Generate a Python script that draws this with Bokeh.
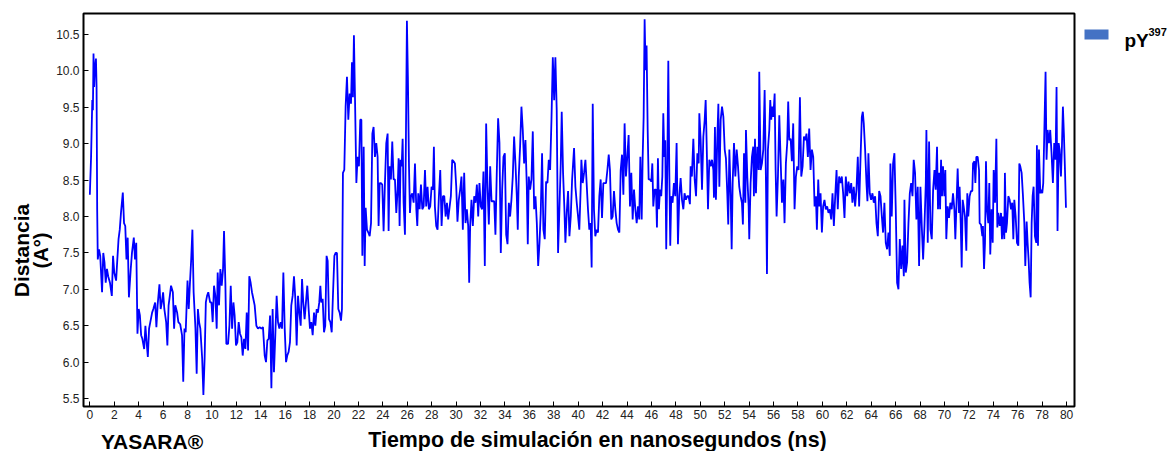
from math import pi
from bokeh.plotting import figure
from bokeh.models import Range1d, Label, FixedTicker, NumeralTickFormatter, ColumnDataSource
from bokeh.layouts import row, column
from bokeh.embed import file_html
from bokeh.resources import INLINE

# ---- data (time in ns, distance in Angstrom) ----
t_00_10 = [0.0,0.1,0.2,0.25,0.3,0.35,0.4,0.5,0.55,0.6,0.65,0.75,0.85,1.0,1.1,1.2,1.3,1.4,1.5,1.65,
           1.8,1.9,2.0,2.15,2.25,2.35,2.45,2.55,2.7,2.8,2.9,3.0,3.1,3.2,3.35,3.45,3.6,3.7,3.8,3.9,
           4.0,4.1,4.2,4.3,4.45,4.55,4.65,4.75,4.85,5.0,5.1,5.2,5.35,5.45,5.55,5.7,5.8,5.9,6.0,6.1,
           6.25,6.35,6.45,6.55,6.65,6.8,6.9,7.0,7.15,7.25,7.4,7.55,7.65,7.75,7.85,8.0,8.1,8.2,8.3,8.4,
           8.5,8.65,8.75,8.85,8.95,9.05,9.2,9.3,9.4,9.5,9.6,9.7,9.85]
d_00_10 = [8.30,8.82,9.60,9.46,10.24,9.78,10.01,10.17,9.78,8.10,7.41,7.55,7.46,6.96,7.50,7.37,7.09,7.28,7.18,7.09,
           6.91,7.46,7.23,7.12,7.41,7.69,7.82,8.05,8.33,7.91,7.87,7.41,7.71,6.89,7.28,7.50,7.71,7.41,7.64,6.39,
           6.73,6.64,6.37,6.32,6.18,6.50,6.27,6.07,6.46,6.59,6.68,6.73,6.82,6.48,6.78,7.07,6.73,6.82,6.96,6.73,
           6.55,6.23,6.78,6.91,7.05,6.96,6.46,6.78,6.68,6.55,6.52,6.37,5.73,6.46,6.41,7.12,6.73,7.09,7.41,7.82,
           6.96,6.46,5.84,6.73,6.55,6.46,6.05,5.55,6.05,6.82,6.91,6.96,6.82]

t_10_20 = [9.96,10.06,10.17,10.28,10.39,10.47,10.58,10.69,10.80,10.91,10.99,11.10,11.18,11.32,11.43,11.54,11.65,11.76,11.86,11.97,
           12.08,12.19,12.30,12.41,12.52,12.63,12.74,12.85,12.96,13.06,13.17,13.28,13.39,13.50,13.64,13.77,13.91,14.05,14.18,14.32,
           14.43,14.54,14.65,14.76,14.87,14.97,15.08,15.19,15.30,15.41,15.52,15.63,15.74,15.85,15.96,16.07,16.17,16.28,16.39,16.50,
           16.61,16.72,16.83,16.94,17.05,17.16,17.27,17.38,17.48,17.59,17.70,17.81,17.92,18.03,18.14,18.25,18.36,18.47,18.58,18.68,
           18.79,18.88,18.96,19.07,19.18,19.28,19.39]
d_10_20 = [6.82,6.55,7.05,6.91,6.46,7.23,6.78,7.28,7.05,7.28,7.80,7.09,6.25,6.25,6.50,7.05,6.46,6.82,6.64,6.23,
           6.27,6.55,6.39,6.34,6.09,6.32,6.18,6.68,6.16,7.18,7.09,6.96,6.87,6.78,6.50,6.46,6.48,6.46,6.48,6.09,
           6.00,6.30,6.32,6.64,5.64,6.73,5.86,6.37,6.91,6.55,6.46,6.55,6.46,7.23,6.46,6.00,6.09,6.14,6.27,6.78,
           6.91,7.18,6.87,6.23,6.91,6.68,6.50,7.14,6.82,6.59,6.82,7.05,6.73,6.46,6.55,6.37,6.68,6.50,6.73,6.68,
           6.82,7.05,6.82,6.87,6.41,6.50,7.46]

t_20_30 = [19.48,19.59,19.70,19.81,19.92,20.03,20.13,20.24,20.35,20.46,20.57,20.65,20.73,20.84,20.95,21.06,21.17,21.28,21.39,21.47,
           21.55,21.63,21.72,21.83,21.93,22.04,22.15,22.24,22.32,22.43,22.51,22.59,22.70,22.81,22.92,23.03,23.14,23.24,23.35,23.46,
           23.57,23.65,23.74,23.84,23.95,24.06,24.17,24.28,24.39,24.47,24.55,24.66,24.77,24.88,24.99,25.10,25.21,25.29,25.37,25.45,
           25.54,25.62,25.70,25.81,25.89,25.97,26.05,26.14,26.22,26.30,26.41,26.52,26.63,26.74,26.82,26.90,27.01,27.12,27.23,27.34,
           27.45,27.55,27.66,27.77,27.88,27.99,28.10,28.18,28.26,28.37,28.48,28.59,28.70,28.81,28.92,29.03,29.14,29.25,29.35]
d_20_30 = [7.39,6.59,6.55,6.41,6.96,7.46,7.50,7.50,6.73,6.68,6.57,6.73,8.60,8.64,9.51,9.92,9.33,9.69,9.55,10.12,
           9.64,10.49,9.60,8.46,8.82,8.69,9.33,9.33,7.46,8.96,7.32,8.12,7.82,7.78,7.73,7.91,9.14,9.23,8.82,9.01,
           8.82,7.87,8.46,8.46,8.44,7.80,8.46,9.01,9.14,7.80,8.69,8.51,9.03,8.51,8.51,8.05,8.37,8.80,7.87,8.78,
           8.69,9.07,8.19,7.75,9.10,10.69,9.92,8.69,8.05,8.28,8.32,8.19,8.73,8.10,7.87,8.32,8.10,8.44,8.10,8.14,
           8.64,8.14,8.41,8.10,8.14,8.41,8.37,8.96,8.14,7.87,7.82,8.28,8.64,7.87,8.28,8.28,8.00,8.19,7.96]

t_30_40 = [29.57,29.68,29.79,29.90,30.01,30.11,30.22,30.33,30.44,30.55,30.66,30.77,30.88,30.99,31.07,31.15,31.26,31.37,31.48,31.59,
           31.70,31.81,31.91,32.02,32.13,32.24,32.35,32.46,32.57,32.68,32.79,32.90,33.01,33.12,33.22,33.33,33.44,33.55,33.66,33.77,
           33.88,33.99,34.10,34.21,34.32,34.42,34.53,34.64,34.75,34.86,34.97,35.05,35.13,35.24,35.35,35.46,35.57,35.68,35.79,35.87,
           35.95,36.06,36.17,36.28,36.39,36.50,36.61,36.72,36.83,36.93,37.04,37.15,37.26,37.37,37.48,37.59,37.70,37.81,37.92,38.03,
           38.13,38.24,38.35,38.46,38.57,38.65,38.76,38.87,38.95,39.06,39.17,39.28,39.39,39.50]
d_30_40 = [8.28,8.78,8.76,8.73,8.41,7.93,8.23,8.37,8.55,7.82,8.60,7.91,8.10,7.87,7.09,7.87,8.23,7.87,8.28,8.19,
           8.44,8.00,8.46,8.14,8.10,8.62,7.32,9.28,8.41,7.89,8.69,8.21,8.21,8.21,7.75,8.60,9.35,9.01,7.50,8.37,
           8.82,8.87,7.75,7.62,8.19,8.00,8.23,8.55,9.10,8.73,8.28,7.82,8.55,8.96,9.51,9.19,8.73,9.05,8.41,7.62,
           8.55,8.37,8.51,9.17,8.10,8.28,7.91,7.32,7.64,8.05,8.87,7.82,7.69,8.48,8.46,8.78,8.64,9.33,10.19,9.60,
           10.19,9.46,7.50,8.10,8.73,9.44,8.60,8.10,7.64,8.05,8.35,7.73,8.00,8.51]

t_40_50 = [39.66,39.77,39.88,39.99,40.09,40.20,40.26,40.37,40.48,40.59,40.69,40.80,40.91,41.02,41.10,41.19,41.29,41.40,41.51,41.62,
           41.73,41.84,41.95,42.06,42.17,42.28,42.39,42.50,42.60,42.71,42.82,42.93,43.04,43.15,43.26,43.37,43.48,43.59,43.70,43.80,
           43.91,44.02,44.13,44.24,44.35,44.46,44.57,44.68,44.79,44.90,45.00,45.09,45.20,45.28,45.36,45.44,45.52,45.60,45.69,45.77,
           45.88,45.99,46.07,46.15,46.26,46.37,46.45,46.53,46.61,46.70,46.80,46.89,46.97,47.05,47.13,47.21,47.30,47.38,47.46,47.54,
           47.62,47.73,47.84,47.95,48.06,48.17,48.28,48.39,48.50,48.61,48.71,48.82,48.93,49.04,49.15,49.21,49.31]
d_40_50 = [8.94,8.41,8.19,8.00,7.82,8.37,8.78,8.46,8.60,8.78,8.46,8.10,7.82,7.91,7.30,9.55,8.10,7.73,7.82,7.78,
           8.28,8.51,7.98,8.46,8.46,8.46,8.64,8.85,8.64,7.96,8.00,8.35,8.10,7.91,7.82,7.78,8.64,8.85,8.30,9.28,
           8.55,8.82,9.12,8.14,8.60,7.96,8.37,8.10,7.91,8.14,7.96,8.82,7.96,8.82,9.37,10.71,10.01,10.35,9.19,8.51,
           8.51,8.48,8.73,8.14,8.37,8.37,7.85,8.80,8.10,8.37,8.28,8.55,9.42,8.82,9.05,7.55,8.73,10.14,8.64,7.60,
           8.28,8.19,8.46,8.28,9.01,7.62,8.28,8.53,8.23,8.10,8.32,8.23,8.28,8.28,8.17,8.69,8.55]

t_50_60 = [49.43,49.54,49.65,49.76,49.87,49.92,50.03,50.14,50.25,50.36,50.44,50.52,50.63,50.74,50.85,50.96,51.07,51.12,51.20,51.28,
           51.39,51.48,51.56,51.67,51.78,51.89,52.00,52.10,52.21,52.29,52.38,52.49,52.57,52.65,52.76,52.87,52.98,53.09,53.19,53.30,
           53.41,53.49,53.58,53.69,53.74,53.85,53.96,54.01,54.12,54.23,54.34,54.39,54.48,54.56,54.67,54.78,54.83,54.94,55.05,55.16,
           55.27,55.38,55.46,55.54,55.65,55.73,55.81,55.89,55.98,56.09,56.17,56.25,56.36,56.47,56.58,56.69,56.80,56.90,57.01,57.12,
           57.20,57.29,57.40,57.50,57.61,57.72,57.83,57.94,58.05,58.16,58.27,58.38,58.49,58.60,58.70,58.81,58.92,59.03,59.14,59.25,
           59.36,59.47,59.55]
d_50_60 = [9.07,8.51,8.28,8.87,8.73,9.42,9.05,8.37,9.10,9.33,9.60,9.01,8.10,8.78,8.69,8.78,8.64,8.26,9.23,8.23,
           9.05,9.55,8.41,9.33,9.51,9.37,8.92,8.80,8.32,7.89,8.92,8.28,7.55,8.46,9.01,8.55,8.92,8.69,8.41,8.28,
           8.19,7.89,8.87,8.19,9.19,8.55,8.14,7.69,8.46,8.82,8.96,8.28,9.07,8.32,8.96,8.64,9.99,8.64,8.73,8.92,
           9.74,8.46,7.21,8.92,9.19,9.60,9.33,9.51,9.37,9.69,8.64,8.00,8.55,9.39,8.78,8.19,8.51,7.91,8.73,9.01,
           9.58,9.05,9.07,8.76,9.28,8.10,8.55,8.69,8.64,9.64,8.55,8.69,9.10,9.05,9.14,8.82,9.21,8.64,8.92,8.82,
           8.14,8.28,7.82]

t_60_70 = [59.66,59.74,59.85,59.96,60.06,60.17,60.28,60.39,60.50,60.61,60.72,60.83,60.94,61.05,61.16,61.26,61.37,61.48,61.59,61.70,
           61.81,61.92,62.03,62.14,62.25,62.36,62.46,62.57,62.68,62.79,62.90,63.01,63.12,63.23,63.31,63.39,63.50,63.61,63.69,63.77,
           63.88,63.99,64.10,64.21,64.32,64.43,64.54,64.65,64.76,64.87,64.97,65.08,65.19,65.30,65.41,65.52,65.57,65.68,65.79,65.90,
           66.01,66.12,66.23,66.34,66.45,66.56,66.67,66.72,66.83,66.94,67.05,67.16,67.27,67.38,67.48,67.59,67.70,67.81,67.92,68.03,
           68.14,68.25,68.36,68.47,68.52,68.63,68.74,68.85,68.96,69.07,69.18,69.28]
d_60_70 = [8.51,8.14,8.32,7.78,8.14,8.23,8.10,8.14,8.05,8.10,7.96,8.32,7.87,8.28,8.64,8.10,8.55,8.46,8.55,8.32,
           7.98,8.55,8.28,8.48,8.32,8.46,8.19,8.41,8.14,8.37,8.82,8.14,8.78,9.37,9.44,9.28,8.92,8.46,8.21,8.87,
           8.32,8.23,8.32,8.19,8.28,7.91,7.73,8.35,8.28,8.00,7.78,8.19,7.64,7.55,7.78,7.46,8.73,8.00,8.73,8.87,
           8.10,7.09,7.00,7.69,7.28,7.60,7.18,8.23,7.23,7.37,7.91,8.32,8.46,8.28,8.78,8.60,7.96,8.41,7.32,8.41,
           7.87,7.41,7.87,8.46,9.19,7.64,9.03,7.82,7.69,8.37,8.64,8.37]

t_70_80 = [69.39,69.47,69.55,69.64,69.72,69.80,69.88,69.99,70.07,70.15,70.26,70.37,70.48,70.59,70.70,70.81,70.89,70.97,71.08,71.19,
           71.24,71.33,71.41,71.49,71.57,71.68,71.79,71.87,71.95,72.06,72.17,72.28,72.34,72.45,72.53,72.61,72.72,72.83,72.88,72.99,
           73.10,73.15,73.24,73.32,73.40,73.48,73.59,73.67,73.75,73.86,73.95,74.03,74.14,74.25,74.33,74.41,74.52,74.63,74.71,74.79,
           74.90,74.95,75.04,75.12,75.23,75.34,75.45,75.55,75.64,75.72,75.83,75.94,76.05,76.13,76.21,76.32,76.43,76.54,76.62,76.73,
           76.81,76.89,76.97,77.06,77.14,77.22,77.30,77.41,77.52,77.57,77.66,77.74,77.85,77.93,78.01,78.09,78.17,78.28,78.36,78.45,
           78.56,78.66,78.77,78.88,78.99,79.10,79.18,79.26,79.35,79.43,79.54,79.62,79.70,79.78,79.87,79.95]
d_70_80 = [8.96,8.10,8.60,8.10,8.78,8.28,8.69,8.28,8.64,7.69,8.14,7.98,8.19,8.10,8.32,8.10,7.69,8.10,8.66,8.05,
           8.41,7.91,7.30,8.23,8.14,8.00,7.53,8.32,8.00,8.28,8.35,8.35,8.73,8.76,8.46,8.82,8.82,8.64,7.91,7.89,
           7.73,7.87,7.28,7.64,8.76,8.10,7.91,8.46,7.48,8.10,7.64,8.64,8.19,9.07,7.85,8.05,7.87,8.05,7.69,8.00,
           7.69,8.60,7.78,7.91,8.28,8.23,8.10,8.19,7.69,8.23,8.00,7.64,7.60,8.73,8.69,8.60,8.28,7.91,7.32,7.93,
           7.64,7.41,7.09,6.89,7.91,8.28,8.41,7.73,7.64,8.98,7.60,8.92,8.32,8.37,8.32,8.46,9.10,9.99,8.78,9.19,
           9.01,9.19,8.87,8.46,9.01,8.78,9.78,7.80,9.01,8.92,8.55,8.96,9.51,9.14,8.64,8.12]

x_ticks = list(range(0, 81, 2))
y_ticks = [5.5, 6.0, 6.5, 7.0, 7.5, 8.0, 8.5, 9.0, 9.5, 10.0, 10.5]
series_name = "pY"
series_sup = "397"
x_title = "Tiempo de simulación en nanosegundos (ns)"
y_title_1 = "Distancia"
y_title_2 = "(A°)"
credit = "YASARA®"

time_ns = t_00_10 + t_10_20 + t_20_30 + t_30_40 + t_40_50 + t_50_60 + t_60_70 + t_70_80
dist_a = d_00_10 + d_10_20 + d_20_30 + d_30_40 + d_40_50 + d_50_60 + d_60_70 + d_70_80
n = min(len(time_ns), len(dist_a))
src = ColumnDataSource(dict(t=time_ns[:n], d=dist_a[:n]))

FONT = "Liberation Sans"
TOP_H = 422      # height of the row holding the plot
FRAME_TOP = 13
FRAME_BOT = 406
LEFT_W = 52      # strip left of the plot for the y title
LEG_W = 97       # legend strip
TOTAL_W = 1173
TOTAL_H = 451


def strip(width, y0, y1, height, b_top, b_bot):
    """A blank figure whose data coordinates equal page pixels (frame spans y0..y1)."""
    f = figure(width=width, height=height, x_range=Range1d(0, width),
               y_range=Range1d(y1, y0), x_axis_type=None, y_axis_type=None,
               output_backend="svg", toolbar_location=None, title=None,
               min_border_left=0, min_border_right=0, min_border_top=b_top, min_border_bottom=b_bot)
    f.outline_line_color = None
    f.xgrid.visible = False
    f.ygrid.visible = False
    f.background_fill_color = "white"
    f.border_fill_color = "white"
    return f


def lab(fig, text, x, y, size, angle=0.0, align="center", baseline="alphabetic"):
    fig.add_layout(Label(x=x, y=y, text=text, angle=angle, text_font=FONT, text_font_size=size,
                         text_font_style="bold", text_color="black", text_align=align,
                         text_baseline=baseline))


# ---- main plot ----
p = figure(width=1076 - LEFT_W, height=TOP_H, x_range=Range1d(-0.52, 80.65), y_range=Range1d(5.39, 10.79),
           output_backend="svg", toolbar_location=None, title=None,
           min_border_left=83 - LEFT_W, min_border_right=2, min_border_top=FRAME_TOP,
           min_border_bottom=TOP_H - FRAME_BOT)
p.background_fill_color = "white"
p.border_fill_color = "white"
p.outline_line_color = "black"
p.outline_line_width = 2
p.xgrid.visible = False
p.ygrid.visible = False

p.line("t", "d", source=src, line_color="#0000FF", line_width=1.8)

for ax in (p.xaxis[0], p.yaxis[0]):
    ax.axis_line_color = "black"
    ax.axis_line_width = 1
    ax.major_tick_in = 5
    ax.major_tick_out = 0
    ax.major_tick_line_color = "black"
    ax.minor_tick_line_color = None
    ax.major_label_text_font = FONT
    ax.major_label_text_font_size = "12px"
    ax.major_label_text_color = "#222222"

p.xaxis.ticker = FixedTicker(ticks=x_ticks)
p.xaxis.major_label_standoff = 3
p.yaxis.ticker = FixedTicker(ticks=y_ticks)
p.yaxis.formatter = NumeralTickFormatter(format="0.0")
p.yaxis.major_label_standoff = 4

# ---- y title strip (frame aligned with the plot frame) ----
left = strip(LEFT_W, FRAME_TOP, FRAME_BOT, TOP_H, FRAME_TOP, TOP_H - FRAME_BOT)
lab(left, y_title_1, 21, 250, "21px", angle=pi / 2, baseline="middle")
lab(left, y_title_2, 40.5, 250, "20px", angle=pi / 2, baseline="middle")

# ---- legend strip ----
lg = strip(LEG_W, FRAME_TOP, FRAME_BOT, TOP_H, FRAME_TOP, TOP_H - FRAME_BOT)
lg.quad(left=[8], right=[32], top=[29], bottom=[39], fill_color="#4472C4", line_color=None)
lab(lg, series_name, 48, 40, "19px", align="left")
lab(lg, series_sup, 72, 31, "11px", align="left")

# ---- bottom strip: x title and credit ----
bottom = strip(TOTAL_W, TOP_H, TOTAL_H, TOTAL_H - TOP_H, 0, 0)
lab(bottom, credit, 151.5, 440.5, "21px")
lab(bottom, x_title, 597, 439, "21.4px")

layout = column(row(left, p, lg, spacing=0), bottom, spacing=0)
open("out.html", "w").write(file_html(layout, INLINE))
